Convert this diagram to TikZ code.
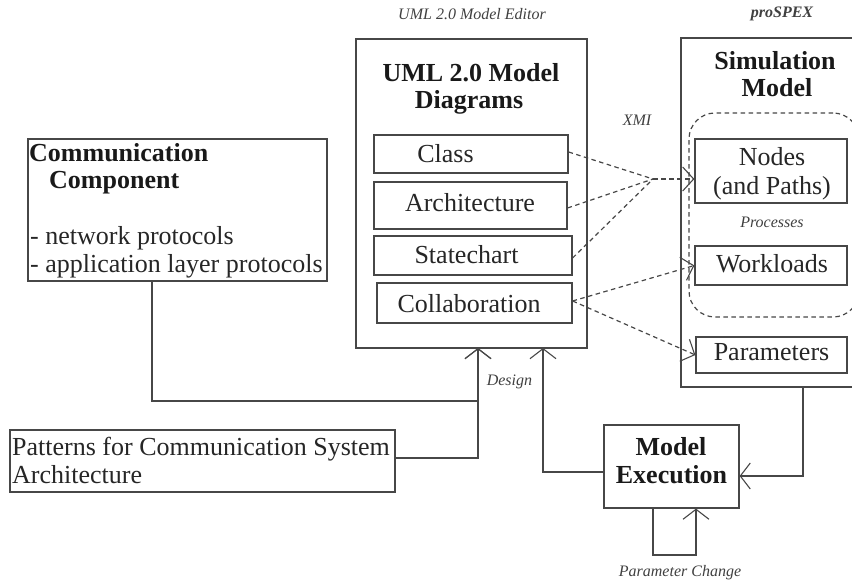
\documentclass[tikz,border=0pt]{standalone}
\usepackage{fontspec}
\setmainfont{Liberation Serif}
\usetikzlibrary{arrows.meta}
\definecolor{ln}{gray}{0.28}
\tikzset{
 box/.style={draw=ln,line width=1.2pt,inner sep=0pt},
 lbl/.style={font=\itshape\fontsize{16}{18}\selectfont,inner sep=0pt,text=black!75},
 body/.style={font=\fontsize{26}{30}\selectfont,inner sep=0pt,text=black!85,anchor=base},
 ttl/.style={font=\bfseries\fontsize{26}{30}\selectfont,inner sep=0pt,text=black!90,anchor=base},
 conn/.style={draw=ln,line width=1.2pt,-{Straight Barb[length=10pt,width=26pt,line width=1.1pt]}},
 dashc/.style={draw=ln,line width=1.2pt,dash pattern=on 4.5pt off 3.5pt},
 dasha/.style={dashc,-{Straight Barb[length=11pt,width=24pt,line width=1.1pt]}}
}
\begin{document}
\begin{tikzpicture}[x=1pt,y=-1pt]
\useasboundingbox (0,0) rectangle (852,585);
\clip (0,0) rectangle (852,585);
% large boxes
\node[box,minimum width=231pt,minimum height=309pt] (uml) at (471.5,193.5) {};
\node[box,minimum width=175pt,minimum height=349pt] (sim) at (768.5,212.5) {};
\node[box,minimum width=299pt,minimum height=142pt] (comm) at (177.5,210) {};
\node[box,minimum width=385pt,minimum height=62pt] (pat) at (202.5,461) {};
\node[box,minimum width=135pt,minimum height=83pt] (exec) at (671.5,466.5) {};
% dashed region
\node[dashc,rounded corners=26pt,minimum width=170pt,minimum height=204pt,inner sep=0pt] (proc) at (774,215) {};
% inner boxes
\node[box,minimum width=194pt,minimum height=38pt] (class) at (471,154) {};
\node[box,minimum width=193pt,minimum height=47pt] (arch) at (470.5,205.5) {};
\node[box,minimum width=198pt,minimum height=39pt] (state) at (473,255.5) {};
\node[box,minimum width=195pt,minimum height=40pt] (coll) at (474.5,303) {};
\node[box,minimum width=152pt,minimum height=64pt] (nodes) at (771,171) {};
\node[box,minimum width=152pt,minimum height=39pt] (work) at (771,265.5) {};
\node[box,minimum width=151pt,minimum height=36pt] (param) at (771.5,355) {};
% texts
\node[body] (tclass) at (445.5,163) {Class};
\node[body] (tarch) at (470,212) {Architecture};
\node[body] (tstate) at (466.5,264) {Statechart};
\node[body] (tcoll) at (469,313) {Collaboration};
\node[body] (tnodes) at (772,166) {Nodes};
\node[body] (tpaths) at (772,195) {(and Paths)};
\node[body] (twork) at (772,273) {Workloads};
\node[body] (tparam) at (771.5,361) {Parameters};
\node[ttl] (tuml) at (471,82) {UML 2.0 Model};
\node[ttl] (tdiag) at (469,109) {Diagrams};
\node[ttl] (tsim) at (775,70) {Simulation};
\node[ttl] (tmod) at (777,97) {Model};
\node[ttl] (texa) at (671,455) {Model};
\node[ttl] (texb) at (671.5,483) {Execution};
\node[ttl,anchor=base west] (tcomm) at (29,162) {Communication};
\node[ttl,anchor=base west] (tcomp) at (49,189) {Component};
\node[body,anchor=base west] (tnet) at (30,245) {- network protocols};
\node[body,anchor=base west] (tapp) at (30,273) {- application layer protocols};
\node[body,anchor=base west] (tpat) at (12,456) {Patterns for Communication System};
\node[body,anchor=base west] (tarc) at (12,483) {Architecture};
\node[lbl] (ledit) at (472,14) {UML 2.0 Model Editor};
\node[lbl,font=\bfseries\itshape\fontsize{16}{18}\selectfont] (lpro) at (782,14) {proSPEX};
\node[lbl] (lxmi) at (637,120) {XMI};
\node[lbl] (lproc) at (772,222) {Processes};
\node[lbl] (ldes) at (509.5,382) {Design};
\node[lbl] (lchg) at (680,573) {Parameter Change};
% connector helpers
\coordinate (hub) at (653,179);
\coordinate (ua) at (478,348);
\coordinate (ub) at (543,348);
\coordinate (j1) at (152,401);
\coordinate (j2) at (478,458);
\coordinate (j3) at (543,472);
\coordinate (j4) at (803,476);
\coordinate (l1) at (653,555);
\coordinate (l2) at (696,555);
% solid connectors
\draw[conn] (comm.south -| j1) -- (j1) -- (j1 -| ua) -- (ua);
\draw[conn] (pat.east |- j2) -- (j2) -- (ua);
\draw[conn] (exec.west |- j3) -- (j3) -- (ub);
\draw[conn] (sim.south -| j4) -- (j4) -- (exec.east |- j4);
\draw[conn] (exec.south -| l1) -- (l1) -- (l2) -- (exec.south -| l2);
% dashed connectors
\draw[dashc] (class.east |- 0,152) -- (hub);
\draw[dashc] (arch.east |- 0,208) -- (hub);
\draw[dashc] (state.east |- 0,258) -- (hub);
\draw[dasha] (hub) -- (nodes.west |- hub);
\draw[dasha] (coll.east |- 0,301) -- (work.west);
\draw[dasha] (coll.east |- 0,301) -- (param.west);
\end{tikzpicture}
\end{document}
